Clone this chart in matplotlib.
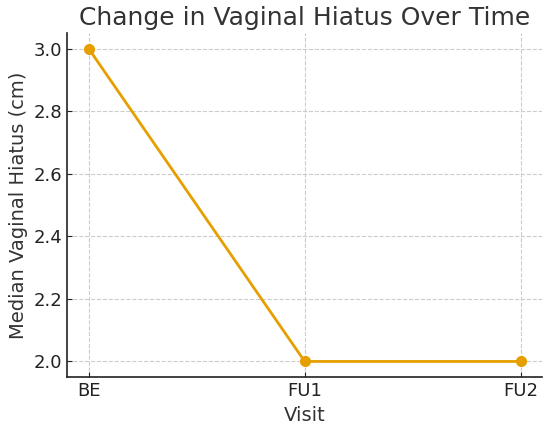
import matplotlib
matplotlib.use("Agg")
import matplotlib.pyplot as plt

visits = ["BE", "FU1", "FU2"]
median_hiatus = [3.0, 2.0, 2.0]

fig = plt.figure(figsize=(5.5, 4.29), dpi=100)
ax = fig.add_axes([0.122, 0.121, 0.864, 0.802])

ax.plot(visits, median_hiatus, marker="o", color="#E69F00", linewidth=2, markersize=7)

ax.set_title("Change in Vaginal Hiatus Over Time", fontsize=18, color="#333333", pad=6)
ax.set_xlabel("Visit", fontsize=14, color="#333333")
ax.set_ylabel("Median Vaginal Hiatus (cm)", fontsize=14, color="#333333")
ax.tick_params(direction="in", labelsize=13, colors="#222222")
ax.grid(True, linestyle="--", color="#cccccc", linewidth=0.8)
ax.set_axisbelow(True)
for side in ["top", "right"]:
    ax.spines[side].set_visible(False)
for side in ["left", "bottom"]:
    ax.spines[side].set_linewidth(1.2)
    ax.spines[side].set_color("#222222")

fig.savefig("out.png", dpi=100)
